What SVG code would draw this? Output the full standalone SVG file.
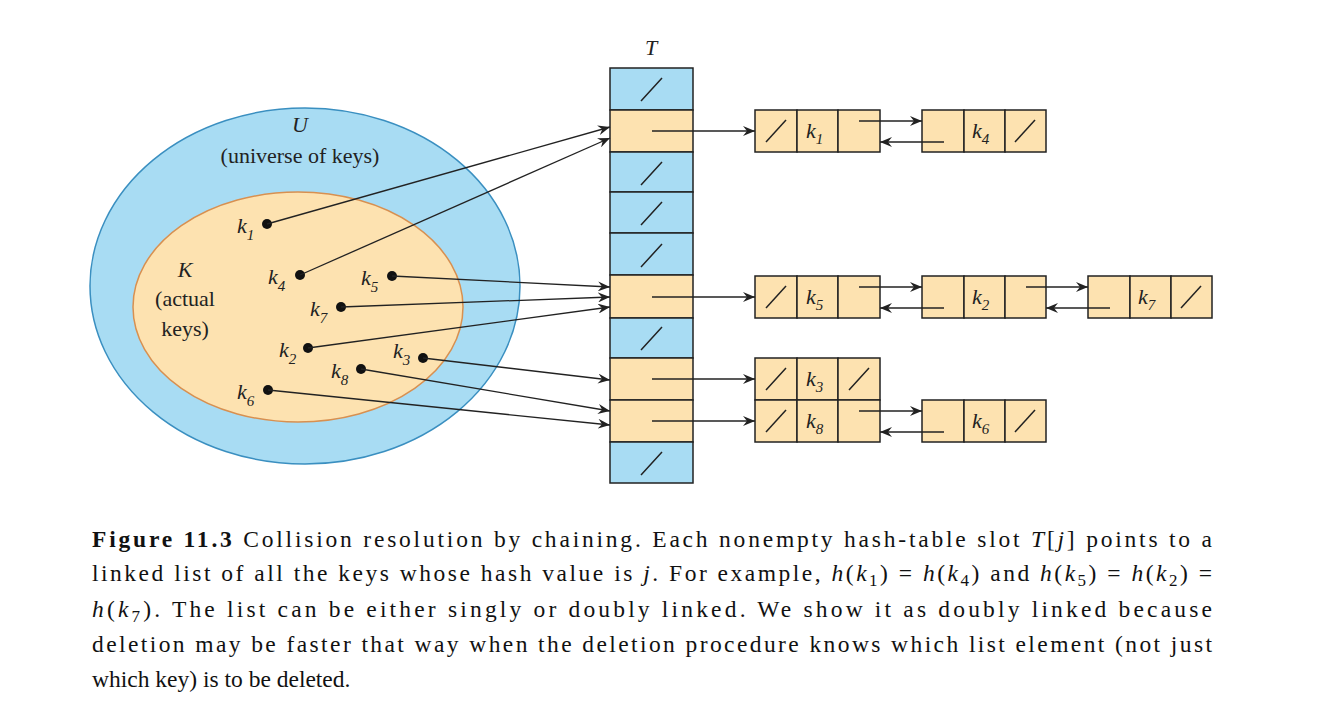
<svg xmlns="http://www.w3.org/2000/svg" width="1327" height="724" viewBox="0 0 1327 724">
<style>
.s{fill:#fde2b0;stroke:#222;stroke-width:1.5}
.b{fill:#a8dcf3;stroke:#222;stroke-width:1.5}
.l{stroke:#222;stroke-width:1.5;fill:none}
.a{stroke:#222;stroke-width:1.3;fill:none;marker-end:url(#ah)}
.t{font-family:"Liberation Serif",serif;font-size:22px;fill:#222}
.k{font-family:"Liberation Serif",serif;font-style:italic;font-size:22px;fill:#222}
.c{font-family:"Liberation Serif",serif;font-size:23.5px;fill:#111}
</style>
<defs>
<marker id="ah" viewBox="0 0 12 10" refX="12" refY="5" markerWidth="12" markerHeight="10" markerUnits="userSpaceOnUse" orient="auto"><path d="M0,0 L12,5 L0,10 L4,5 Z" fill="#222"/></marker>
</defs>
<g id="universe">
<ellipse cx="305" cy="286" rx="215" ry="178" fill="#a8dcf3" stroke="#3a8fc0" stroke-width="1.5"/>
<text class="k" x="300" y="132" text-anchor="middle">U</text>
<text class="t" x="300" y="163" text-anchor="middle">(universe of keys)</text>
</g>
<g id="actual">
<ellipse cx="298" cy="307" rx="165" ry="115" fill="#fde2b0" stroke="#d89050" stroke-width="1.5"/>
<text class="k" x="185" y="277" text-anchor="middle">K</text>
<text class="t" x="185" y="306" text-anchor="middle">(actual</text>
<text class="t" x="185" y="336" text-anchor="middle">keys)</text>
</g>
<g id="keys" fill="#111">
<circle cx="267" cy="224" r="5"/><text class="k" x="237" y="233">k<tspan font-size="15" dy="7">1</tspan></text>
<circle cx="300" cy="275" r="5"/><text class="k" x="268" y="284">k<tspan font-size="15" dy="7">4</tspan></text>
<circle cx="392" cy="276" r="5"/><text class="k" x="361" y="285">k<tspan font-size="15" dy="7">5</tspan></text>
<circle cx="341" cy="307" r="5"/><text class="k" x="310" y="316">k<tspan font-size="15" dy="7">7</tspan></text>
<circle cx="308" cy="348" r="5"/><text class="k" x="279" y="357">k<tspan font-size="15" dy="7">2</tspan></text>
<circle cx="423" cy="358" r="5"/><text class="k" x="393" y="358">k<tspan font-size="15" dy="7">3</tspan></text>
<circle cx="361" cy="369" r="5"/><text class="k" x="331" y="378">k<tspan font-size="15" dy="7">8</tspan></text>
<circle cx="268" cy="390" r="5"/><text class="k" x="237" y="399">k<tspan font-size="15" dy="7">6</tspan></text>
</g>
<g id="table">
<text class="k" x="651" y="55" text-anchor="middle">T</text>
<rect class="b" x="610" y="68" width="83" height="42"/>
<rect class="s" x="610" y="110" width="83" height="42"/>
<rect class="b" x="610" y="152" width="83" height="40"/>
<rect class="b" x="610" y="192" width="83" height="41"/>
<rect class="b" x="610" y="233" width="83" height="42"/>
<rect class="s" x="610" y="275" width="83" height="43"/>
<rect class="b" x="610" y="318" width="83" height="40"/>
<rect class="s" x="610" y="358" width="83" height="42"/>
<rect class="s" x="610" y="400" width="83" height="42"/>
<rect class="b" x="610" y="442" width="83" height="41"/>
<path class="l" d="M641,101 L662,78 M641,185 L662,162 M641,225 L662,202 M641,267 L662,244 M641,350 L662,327 M641,475 L662,452"/>
</g>
<g id="lists">
<g id="n_k1"><rect class="s" x="755" y="110" width="42" height="42"/><rect class="s" x="797" y="110" width="41" height="42"/><rect class="s" x="838" y="110" width="42" height="42"/><path class="l" d="M766,142 L786,120"/><text class="k" x="806" y="138">k<tspan font-size="15" dy="6">1</tspan></text></g>
<g id="n_k4"><rect class="s" x="922" y="110" width="42" height="42"/><rect class="s" x="964" y="110" width="41" height="42"/><rect class="s" x="1005" y="110" width="41" height="42"/><path class="l" d="M1015,142 L1035,120"/><text class="k" x="972" y="138">k<tspan font-size="15" dy="6">4</tspan></text></g>
<g id="n_k5"><rect class="s" x="755" y="276" width="42" height="42"/><rect class="s" x="797" y="276" width="41" height="42"/><rect class="s" x="838" y="276" width="42" height="42"/><path class="l" d="M766,308 L786,286"/><text class="k" x="806" y="304">k<tspan font-size="15" dy="6">5</tspan></text></g>
<g id="n_k2"><rect class="s" x="922" y="276" width="42" height="42"/><rect class="s" x="964" y="276" width="41" height="42"/><rect class="s" x="1005" y="276" width="41" height="42"/><text class="k" x="972" y="304">k<tspan font-size="15" dy="6">2</tspan></text></g>
<g id="n_k7"><rect class="s" x="1088" y="276" width="42" height="42"/><rect class="s" x="1130" y="276" width="41" height="42"/><rect class="s" x="1171" y="276" width="41" height="42"/><path class="l" d="M1181,308 L1201,286"/><text class="k" x="1138" y="304">k<tspan font-size="15" dy="6">7</tspan></text></g>
<g id="n_k3"><rect class="s" x="755" y="358" width="42" height="42"/><rect class="s" x="797" y="358" width="41" height="42"/><rect class="s" x="838" y="358" width="42" height="42"/><path class="l" d="M766,390 L786,368 M849,390 L869,368"/><text class="k" x="806" y="386">k<tspan font-size="15" dy="6">3</tspan></text></g>
<g id="n_k8"><rect class="s" x="755" y="400" width="42" height="42"/><rect class="s" x="797" y="400" width="41" height="42"/><rect class="s" x="838" y="400" width="42" height="42"/><path class="l" d="M766,432 L786,410"/><text class="k" x="806" y="428">k<tspan font-size="15" dy="6">8</tspan></text></g>
<g id="n_k6"><rect class="s" x="922" y="400" width="42" height="42"/><rect class="s" x="964" y="400" width="41" height="42"/><rect class="s" x="1005" y="400" width="41" height="42"/><path class="l" d="M1015,432 L1035,410"/><text class="k" x="972" y="428">k<tspan font-size="15" dy="6">6</tspan></text></g>
</g>
<g id="connectors">
<path class="a" d="M267,224 L610,127"/>
<path class="a" d="M300,275 L610,138"/>
<path class="a" d="M392,276 L610,287"/>
<path class="a" d="M341,307 L610,297"/>
<path class="a" d="M308,348 L610,307"/>
<path class="a" d="M423,358 L610,380"/>
<path class="a" d="M361,369 L610,411"/>
<path class="a" d="M268,390 L610,425"/>
<path class="a" d="M652,131 L755,131"/>
<path class="a" d="M652,297 L755,297"/>
<path class="a" d="M652,379 L755,379"/>
<path class="a" d="M652,421 L755,421"/>
<path class="a" d="M859,121 L922,121"/><path class="a" d="M944,142 L880,142"/>
<path class="a" d="M859,287 L922,287"/><path class="a" d="M944,308 L880,308"/>
<path class="a" d="M1026,287 L1088,287"/><path class="a" d="M1110,308 L1046,308"/>
<path class="a" d="M859,411 L922,411"/><path class="a" d="M944,432 L880,432"/>
</g>
<g id="caption">
<text class="c" x="92" y="547" textLength="1120" lengthAdjust="spacing"><tspan font-weight="bold">Figure 11.3</tspan> Collision resolution by chaining. Each nonempty hash-table slot <tspan font-style="italic">T</tspan>[<tspan font-style="italic">j</tspan>] points to a</text>
<text class="c" x="92" y="581" textLength="1120" lengthAdjust="spacing">linked list of all the keys whose hash value is <tspan font-style="italic">j</tspan>. For example, <tspan font-style="italic">h</tspan>(<tspan font-style="italic">k</tspan><tspan font-size="17" dy="5">1</tspan><tspan dy="-5">) = </tspan><tspan font-style="italic">h</tspan>(<tspan font-style="italic">k</tspan><tspan font-size="17" dy="5">4</tspan><tspan dy="-5">) and </tspan><tspan font-style="italic">h</tspan>(<tspan font-style="italic">k</tspan><tspan font-size="17" dy="5">5</tspan><tspan dy="-5">) = </tspan><tspan font-style="italic">h</tspan>(<tspan font-style="italic">k</tspan><tspan font-size="17" dy="5">2</tspan><tspan dy="-5">) =</tspan></text>
<text class="c" x="92" y="617" textLength="1120" lengthAdjust="spacing"><tspan font-style="italic">h</tspan>(<tspan font-style="italic">k</tspan><tspan font-size="17" dy="5">7</tspan><tspan dy="-5">). The list can be either singly or doubly linked. We show it as doubly linked because</tspan></text>
<text class="c" x="92" y="652" textLength="1120" lengthAdjust="spacing">deletion may be faster that way when the deletion procedure knows which list element (not just</text>
<text class="c" x="92" y="687">which key) is to be deleted.</text>
</g>
</svg>
